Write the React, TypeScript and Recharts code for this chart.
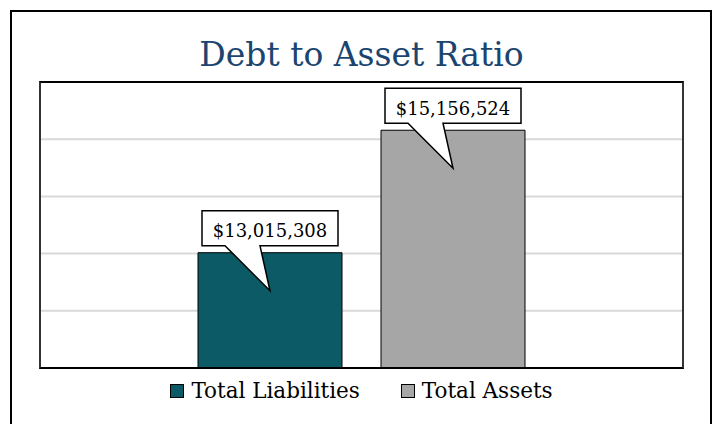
import React from "react";
import { BarChart, Bar, XAxis, YAxis, CartesianGrid, LabelList } from "recharts";

const categories = ["Debt to Asset Ratio"];
const seriesNames = ["Total Liabilities", "Total Assets"];
const liabilities = [13015308];
const assets = [15156524];
const gridTicks = [11000000, 12000000, 13000000, 14000000, 15000000, 16000000];
const yDomain = [11000000, 16000000];
const colors = ["#0B5A65", "#A6A6A6"];

const data = categories.map((c, i) => ({ name: c, liabilities: liabilities[i], assets: assets[i] }));

const FONT = "'DejaVu Serif', serif";

const fmt = (v: number) => "$" + v.toLocaleString("en-US");

const Callout = (props: any) => {
  const { x, y, width, value } = props;
  const cx = x + width / 2;
  const bw = 136;
  const bh = 35;
  const bottom = y - 7;
  const top = bottom - bh;
  const left = cx - bw / 2;
  const right = cx + bw / 2;
  const tipY = y + 38;
  const d = `M${left},${top} H${right} V${bottom} H${cx - 10} L${cx},${tipY} L${cx - 45},${bottom} H${left} Z`;
  return (
    <g>
      <path d={d} fill="#fff" stroke="#000" strokeWidth={1.5} strokeLinejoin="miter" />
      <text x={cx} y={bottom - 8.5} textAnchor="middle" fontFamily={FONT} fontSize={18} fill="#000">
        {fmt(value)}
      </text>
    </g>
  );
};

export default function App() {
  return (
    <div style={{ position: "absolute", left: 0, top: 0, width: 713, height: 424, overflow: "hidden", background: "#fff" }}>
      <div style={{ position: "absolute", left: 10, top: 10, width: 698, height: 500, border: "2px solid #000" }} />
      <div style={{ position: "absolute", left: 0, top: 38, width: 723, textAlign: "center", fontFamily: FONT, fontSize: 33, lineHeight: "33px", color: "#1B4570" }}>
        Debt to Asset Ratio
      </div>
      <div style={{ position: "absolute", left: 0, top: 0 }}>
        <BarChart width={713} height={424} data={data} margin={{ top: 82, left: 40, right: 30, bottom: 56 }} barSize={144} barGap={39}>
          <CartesianGrid vertical={false} horizontalValues={gridTicks} stroke="#D9D9D9" strokeWidth={2} />
          <XAxis dataKey="name" hide />
          <YAxis hide domain={yDomain} type="number" ticks={gridTicks} allowDataOverflow />
          <Bar dataKey="liabilities" name={seriesNames[0]} fill={colors[0]} stroke="#000" strokeWidth={1} isAnimationActive={false}>
            <LabelList dataKey="liabilities" content={Callout} />
          </Bar>
          <Bar dataKey="assets" name={seriesNames[1]} fill={colors[1]} stroke="#000" strokeWidth={1} isAnimationActive={false}>
            <LabelList dataKey="assets" content={Callout} />
          </Bar>
        </BarChart>
      </div>
      <div style={{ position: "absolute", left: 39, top: 81, width: 641, height: 284, borderTop: "2px solid #000", borderBottom: "2px solid #000", borderLeft: "2px solid #333", borderRight: "2px solid #333", pointerEvents: "none" }} />
      <div style={{ position: "absolute", left: 0, top: 378, width: 723, display: "flex", justifyContent: "center", alignItems: "center", fontFamily: FONT, fontSize: 21.5, lineHeight: "25px", color: "#000" }}>
        {seriesNames.map((n, i) => (
          <div key={n} style={{ display: "flex", alignItems: "center", marginRight: i === 0 ? 41 : 0 }}>
            <div style={{ width: 12, height: 12, background: colors[i], border: "1px solid #000", marginRight: 7 }} />
            <span>{n}</span>
          </div>
        ))}
      </div>
    </div>
  );
}
